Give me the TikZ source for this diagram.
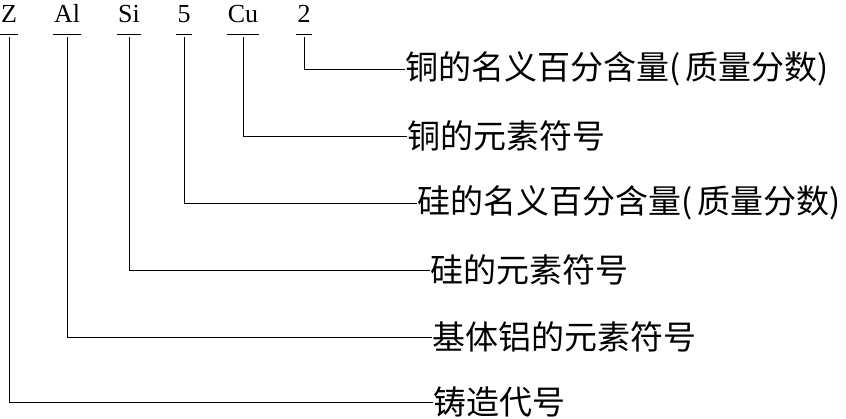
\documentclass[tikz,border=0pt]{standalone}
\usepackage{fontspec}
\setmainfont{Liberation Serif}
\newfontfamily\cjk{Noto Sans CJK SC}
\usetikzlibrary{positioning}
\newcommand\lpar{\makebox[16pt][l]{(}}
\newcommand\rpar{\makebox[16pt][l]{)}}
\tikzset{
  sym/.style ={font=\fontsize{26}{30}\selectfont, inner xsep=1pt,
               inner ysep=0pt, text depth=0pt, anchor=base},
  desc/.style={font=\cjk\fontsize{33}{36}\selectfont, inner sep=0pt,
               anchor=west},
  ln/.style  ={line width=1pt, draw=black},
}

\begin{document}
\begin{tikzpicture}[x=1pt,y=-1pt]
  \useasboundingbox (0,0) rectangle (846,418);
  \node[sym] (z)    at (9,22)   {Z};
  \node[sym] (al)   at (67,22)  {Al};
  \node[sym] (si)   at (129,22) {Si};
  \node[sym] (five) at (184,22) {5};
  \node[sym] (cu)   at (243,22) {Cu};
  \node[sym] (two)  at (304,22) {2};

  \node[desc] (d1) at (405,69)  {铜的名义百分含量\lpar 质量分数\rpar};
  \node[desc] (d2) at (407,136) {铜的元素符号};
  \node[desc] (d3) at (417,203) {硅的名义百分含量\lpar 质量分数\rpar};
  \node[desc] (d4) at (430,270) {硅的元素符号};
  \node[desc] (d5) at (432,337) {基体铝的元素符号};
  \node[desc] (d6) at (433,402) {铸造代号};

  \foreach \s in {z,al,si,five,cu,two}
    \draw[ln] ([yshift=-12pt]\s.south west) -- ([yshift=-12pt]\s.south east);

  \draw[ln] ([yshift=-15pt]two.south)  |- (d1.west);
  \draw[ln] ([yshift=-15pt]cu.south)   |- (d2.west);
  \draw[ln] ([yshift=-15pt]five.south) |- (d3.west);
  \draw[ln] ([yshift=-15pt]si.south)   |- (d4.west);
  \draw[ln] ([yshift=-15pt]al.south)   |- (d5.west);
  \draw[ln] ([yshift=-15pt]z.south)    |- (d6.west);
\end{tikzpicture}
\end{document}
